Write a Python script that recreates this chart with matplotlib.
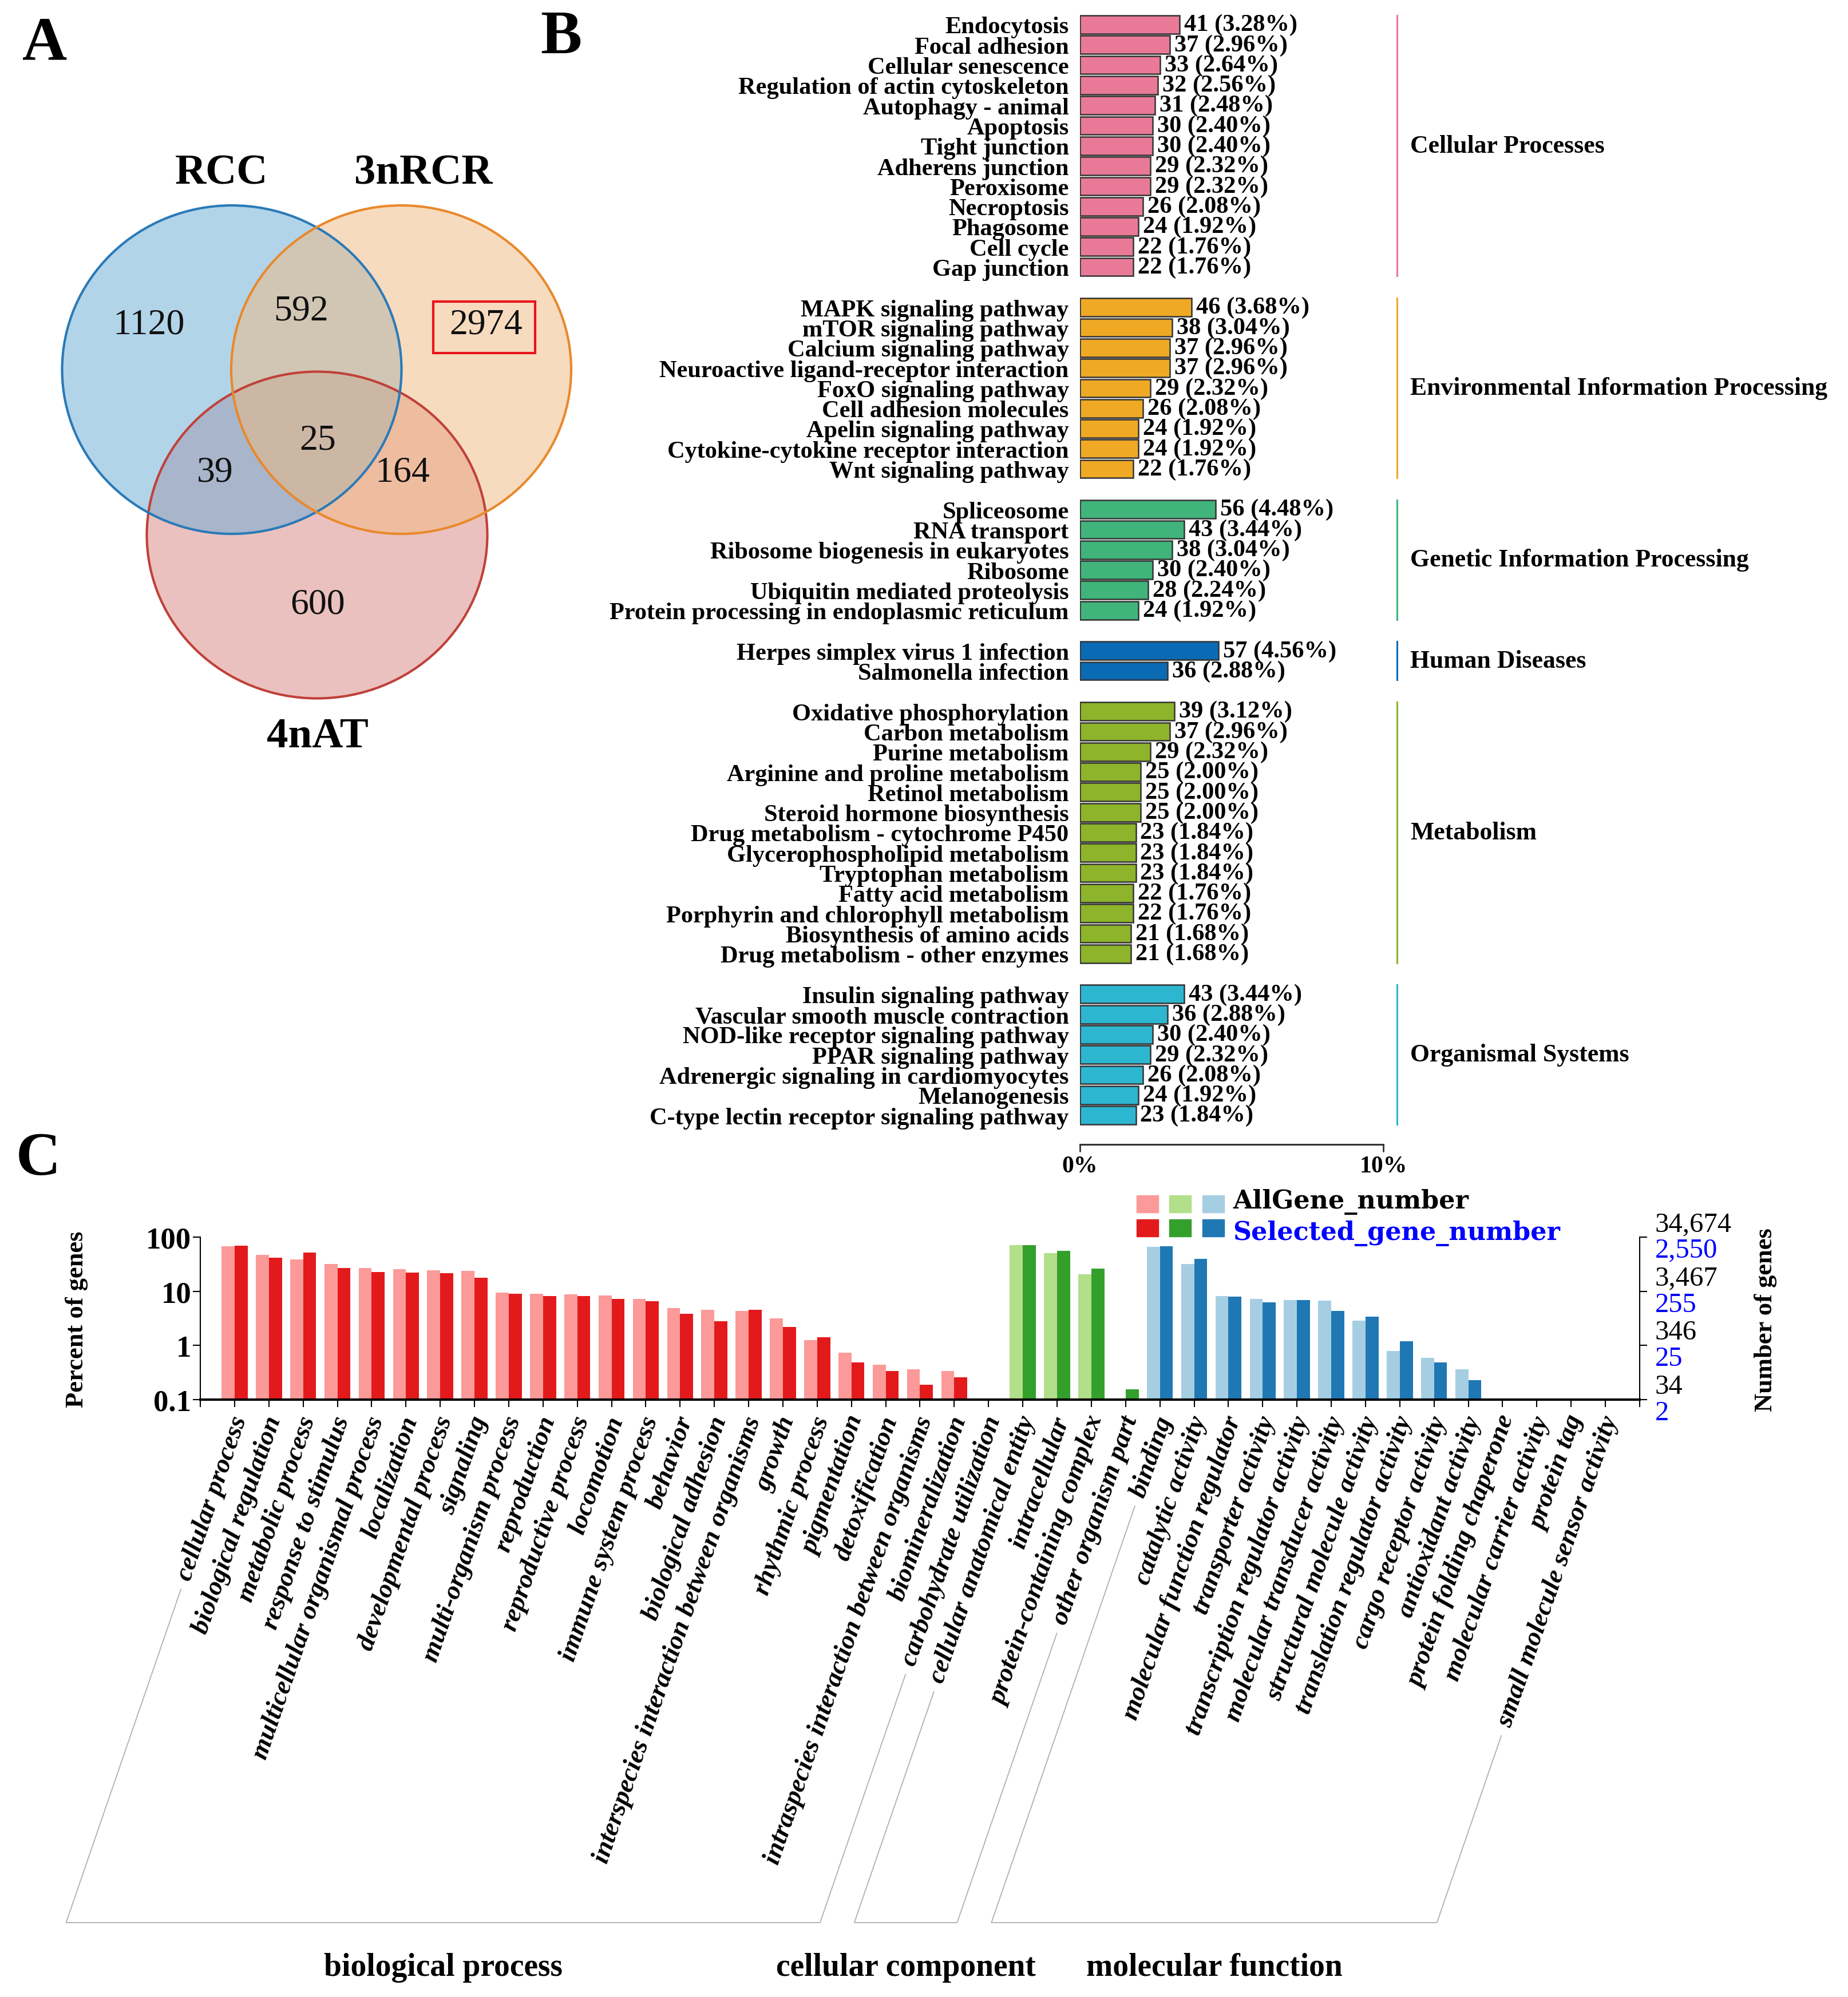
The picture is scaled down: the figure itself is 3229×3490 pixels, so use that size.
import matplotlib
matplotlib.use("Agg")
import matplotlib.pyplot as plt
import matplotlib.transforms as mtrans
from matplotlib.patches import Ellipse, Rectangle
from matplotlib.ticker import NullLocator
import numpy as np

plt.rcParams['font.family'] = ['Liberation Serif', 'DejaVu Serif']

W, H = 3230, 3491

# ---------------- data: panel A (venn)
venn_sets = ["RCC", "3nRCR", "4nAT"]
venn_regions = ["RCC", "RCC&3nRCR", "3nRCR", "RCC&3nRCR&4nAT", "RCC&4nAT", "3nRCR&4nAT", "4nAT"]
venn_values = [1120, 592, 2974, 25, 39, 164, 600]

# ---------------- data: panel B (KEGG)
kegg_classes = ["Cellular Processes", "Environmental Information Processing",
                "Genetic Information Processing", "Human Diseases",
                "Metabolism", "Organismal Systems"]
cell_names = ["Endocytosis", "Focal adhesion", "Cellular senescence", "Regulation of actin cytoskeleton",
              "Autophagy - animal", "Apoptosis", "Tight junction", "Adherens junction", "Peroxisome",
              "Necroptosis", "Phagosome", "Cell cycle", "Gap junction"]
cell_counts = [41, 37, 33, 32, 31, 30, 30, 29, 29, 26, 24, 22, 22]
cell_pct = [3.28, 2.96, 2.64, 2.56, 2.48, 2.40, 2.40, 2.32, 2.32, 2.08, 1.92, 1.76, 1.76]
env_names = ["MAPK signaling pathway", "mTOR signaling pathway", "Calcium signaling pathway",
             "Neuroactive ligand-receptor interaction", "FoxO signaling pathway", "Cell adhesion molecules",
             "Apelin signaling pathway", "Cytokine-cytokine receptor interaction", "Wnt signaling pathway"]
env_counts = [46, 38, 37, 37, 29, 26, 24, 24, 22]
env_pct = [3.68, 3.04, 2.96, 2.96, 2.32, 2.08, 1.92, 1.92, 1.76]
gen_names = ["Spliceosome", "RNA transport", "Ribosome biogenesis in eukaryotes", "Ribosome",
             "Ubiquitin mediated proteolysis", "Protein processing in endoplasmic reticulum"]
gen_counts = [56, 43, 38, 30, 28, 24]
gen_pct = [4.48, 3.44, 3.04, 2.40, 2.24, 1.92]
hum_names = ["Herpes simplex virus 1 infection", "Salmonella infection"]
hum_counts = [57, 36]
hum_pct = [4.56, 2.88]
met_names = ["Oxidative phosphorylation", "Carbon metabolism", "Purine metabolism",
             "Arginine and proline metabolism", "Retinol metabolism", "Steroid hormone biosynthesis",
             "Drug metabolism - cytochrome P450", "Glycerophospholipid metabolism", "Tryptophan metabolism",
             "Fatty acid metabolism", "Porphyrin and chlorophyll metabolism", "Biosynthesis of amino acids",
             "Drug metabolism - other enzymes"]
met_counts = [39, 37, 29, 25, 25, 25, 23, 23, 23, 22, 22, 21, 21]
met_pct = [3.12, 2.96, 2.32, 2.00, 2.00, 2.00, 1.84, 1.84, 1.84, 1.76, 1.76, 1.68, 1.68]
org_names = ["Insulin signaling pathway", "Vascular smooth muscle contraction",
             "NOD-like receptor signaling pathway", "PPAR signaling pathway",
             "Adrenergic signaling in cardiomyocytes", "Melanogenesis",
             "C-type lectin receptor signaling pathway"]
org_counts = [43, 36, 30, 29, 26, 24, 23]
org_pct = [3.44, 2.88, 2.40, 2.32, 2.08, 1.92, 1.84]
kegg_colors = ["#e97a97", "#efa925", "#40b47a", "#0b6ab4", "#8db42a", "#2db6d0"]

# ---------------- data: panel C (GO)
go_classes = ["biological process", "cellular component", "molecular function"]
bp_terms = ["cellular process", "biological regulation", "metabolic process", "response to stimulus",
            "multicellular organismal process", "localization", "developmental process", "signaling",
            "multi-organism process", "reproduction", "reproductive process", "locomotion",
            "immune system process", "behavior", "biological adhesion",
            "interspecies interaction between organisms", "growth", "rhythmic process", "pigmentation",
            "detoxification", "intraspecies interaction between organisms", "biomineralization",
            "carbohydrate utilization"]
bp_all = [67, 47, 39, 31.6, 26.7, 25.4, 24.4, 23.8, 9.5, 8.9, 8.8, 8.4, 7.3, 4.9, 4.5, 4.3, 3.2,
          1.26, 0.74, 0.44, 0.36, 0.34, 0]
bp_sel = [69, 42, 52, 27, 22.9, 22.3, 21.4, 17.8, 9.0, 8.2, 8.1, 7.2, 6.6, 3.8, 2.8, 4.5, 2.2,
          1.42, 0.49, 0.34, 0.19, 0.26, 0]
cc_terms = ["cellular anatomical entity", "intracellular", "protein-containing complex", "other organism part"]
cc_all = [71, 50, 20.7, 0]
cc_sel = [71, 56, 26, 0.156]
mf_terms = ["binding", "catalytic activity", "molecular function regulator", "transporter activity",
            "transcription regulator activity", "molecular transducer activity",
            "structural molecule activity", "translation regulator activity", "cargo receptor activity",
            "antioxidant activity", "protein folding chaperone", "molecular carrier activity",
            "protein tag", "small molecule sensor activity"]
mf_all = [66, 32, 8.2, 7.3, 6.9, 6.8, 2.9, 0.80, 0.59, 0.36, 0, 0, 0, 0]
mf_sel = [67, 40, 8.0, 6.2, 6.9, 4.3, 3.4, 1.19, 0.49, 0.23, 0, 0, 0, 0]
go_light = ["#fb9a99", "#b2df8a", "#a6cee3"]
go_dark = ["#e31a1c", "#33a02c", "#1f78b4"]
right_ticks = [100, 10, 1, 0.1]
right_black = ["34,674", "3,467", "346", "34"]
right_blue = ["2,550", "255", "25", "2"]


def frac(x0, y0, x1, y1):
    return [x0 / W, 1 - y1 / H, (x1 - x0) / W, (y1 - y0) / H]


fig = plt.figure(figsize=(W / 100, H / 100), dpi=100)
ov = fig.add_axes([0, 0, 1, 1])
ov.set_xlim(0, W)
ov.set_ylim(H, 0)
ov.axis('off')

# ---------------- panel A
# fill order: 4nAT, RCC, 3nRCR (gives the bluish/tan overlaps)
circles = [((554, 936), 595, 571, "#d98581", "#c0413a"),
           ((405, 647), 593, 574, "#67abd5", "#2a7ab8"),
           ((701, 647), 594, 574, "#f1b981", "#e8892b")]
for c, w, h, fc, ec in circles:
    ov.add_patch(Ellipse(c, w, h, facecolor=fc, alpha=0.5, edgecolor='none'))
for c, w, h, fc, ec in circles:
    ov.add_patch(Ellipse(c, w, h, fill=False, edgecolor=ec, lw=3))
region_xy = [(260, 568), (526, 544), (849, 568), (555, 771), (376, 827), (703, 827), (555, 1058)]
for (x, y), v in zip(region_xy, venn_values):
    ov.text(x, y, str(v), ha='center', va='center', fontsize=46, color='#111111')
for (x, y), s in zip([(387, 303), (740, 303), (555, 1288)], venn_sets):
    ov.text(x, y, s, ha='center', va='center', fontsize=54, fontweight='bold')
ov.add_patch(Rectangle((757, 528), 178, 90, fill=False, edgecolor='#e8141c', lw=3))

for (x, y), s in zip([(78, 78), (980, 67), (67, 2027)], ["A", "B", "C"]):
    ov.text(x, y, s, ha='center', va='center', fontsize=78, fontweight='bold')

# ---------------- panel B
axb = fig.add_axes(frac(1887, 26.35, 2417, 2001))
groups = [(cell_names, cell_counts, cell_pct), (env_names, env_counts, env_pct),
          (gen_names, gen_counts, gen_pct), (hum_names, hum_counts, hum_pct),
          (met_names, met_counts, met_pct), (org_names, org_counts, org_pct)]
row = 0
all_pos, all_names = [], []
for (names, counts, pcts), cls, col in zip(groups, kegg_classes, kegg_colors):
    pos = np.arange(row, row + len(names))
    axb.barh(pos, pcts, height=0.9, color=col, edgecolor='#333333', lw=1.8)
    for p, n, v in zip(pos, counts, pcts):
        axb.text(v + 0.15, p, f"{n} ({v:.2f}%)", va='center', ha='left', fontsize=30.5, fontweight='bold')
    axb.plot([10.45, 10.45], [pos[0] - 0.45, pos[-1] + 0.45], color=col, lw=2.2, clip_on=False)
    axb.text(10.89, (pos[0] + pos[-1]) / 2, cls, va='center', ha='left', fontsize=31.5, fontweight='bold')
    all_pos += list(pos)
    all_names += names
    row += len(names) + 1
axb.set_xlim(0, 10)
axb.set_ylim(55.44, -0.5)
axb.set_yticks(all_pos)
axb.set_yticklabels(all_names, fontsize=30.5, fontweight='bold')
axb.tick_params(axis='y', length=0, pad=14)
axb.set_xticks([0, 10])
axb.set_xticklabels(["0%", "10%"], fontsize=30, fontweight='bold')
axb.tick_params(axis='x', length=9.4, width=2, pad=4, color='#333333')
for s in ['left', 'right', 'top']:
    axb.spines[s].set_visible(False)
axb.spines['bottom'].set_linewidth(2.2)
axb.spines['bottom'].set_color('#333333')
axb.patch.set_alpha(0)

# ---------------- panel C
axc = fig.add_axes(frac(350, 2163, 2865, 2447))
axc.set_yscale('log')
terms = bp_terms + cc_terms + mf_terms
all_vals = bp_all + cc_all + mf_all
sel_vals = bp_sel + cc_sel + mf_sel
grp_idx = [0] * len(bp_terms) + [1] * len(cc_terms) + [2] * len(mf_terms)
for i, (a, s, g) in enumerate(zip(all_vals, sel_vals, grp_idx)):
    if a > 0:
        axc.bar(i - 0.19, a, width=0.38, color=go_light[g])
    if s > 0:
        axc.bar(i + 0.19, s, width=0.38, color=go_dark[g])
axc.set_ylim(0.1, 100)
axc.set_xlim(-1, len(terms))
axc.set_yticks([0.1, 1, 10, 100])
axc.set_yticklabels(["0.1", "1", "10", "100"], fontsize=38, fontweight='bold')
axc.yaxis.set_minor_locator(NullLocator())
axc.set_xticks(range(-1, len(terms) + 1))
axc.set_xticklabels([])
axc.tick_params(axis='x', length=9.4, width=1.5)
axc.tick_params(axis='y', length=9.4, width=1.5, pad=2)
axc.spines['top'].set_visible(False)
axc.spines['right'].set_visible(False)
axc.spines['bottom'].set_linewidth(3)
axc.spines['left'].set_linewidth(1.5)
axc.patch.set_alpha(0)

ax2 = axc.twinx()
ax2.set_yscale('log')
ax2.set_ylim(0.1, 100)
ax2.set_yticks(right_ticks)
ax2.set_yticklabels([])
ax2.yaxis.set_minor_locator(NullLocator())
ax2.tick_params(axis='y', length=9.4, width=1.5)
for s in ['top', 'left', 'bottom']:
    ax2.spines[s].set_visible(False)
ax2.spines['right'].set_linewidth(1.5)
for v, b, bl in zip(right_ticks, right_black, right_blue):
    ax2.annotate(b, xy=(1, v), xycoords=('axes fraction', 'data'), xytext=(19, 16.5),
                 textcoords='offset points', ha='left', va='center', fontsize=35, color='black')
    ax2.annotate(bl, xy=(1, v), xycoords=('axes fraction', 'data'), xytext=(19, -16.5),
                 textcoords='offset points', ha='left', va='center', fontsize=35, color='#0000ff')

base = mtrans.blended_transform_factory(axc.transData, axc.transAxes)
t_off = mtrans.offset_copy(base, fig=fig, x=10, y=-30, units='dots')
labels = []
for i, t in enumerate(terms):
    labels.append(axc.text(i, 0, t, transform=t_off, rotation=71, ha='right', va='center',
                           rotation_mode='anchor', fontsize=33.5, fontweight='bold', fontstyle='italic'))

ov.text(134, 2306, "Percent of genes", rotation=90, ha='center', va='center', fontsize=32, fontweight='bold')
ov.text(3085, 2307, "Number of genes", rotation=90, ha='center', va='center', fontsize=32, fontweight='bold')

# legend (wider, heavier face as in the original)
for k in range(3):
    ov.add_patch(Rectangle((1986 + 57.5 * k, 2090), 38, 30, color=go_light[k]))
    ov.add_patch(Rectangle((1986 + 57.5 * k, 2132), 38, 30, color=go_dark[k]))
ov.text(2154, 2101, "AllGene_number", va='center', ha='left', fontsize=32, fontweight='bold',
        family=['DejaVu Serif'])
ov.text(2154, 2156, "Selected_gene_number", va='center', ha='left', fontsize=32, fontweight='bold',
        color='#0000ff', family=['DejaVu Serif'])

# brackets under the GO labels
fig.canvas.draw()
renderer = fig.canvas.get_renderer()
tan_a = np.tan(np.radians(71))
y_floor = 3361


def bracket_line(i):
    ax_d = t_off.transform((i, 0))
    anc_x, anc_y = ax_d[0], H - ax_d[1]
    bb = labels[i].get_window_extent(renderer)
    y_top = H - bb.y0 + 10
    x_top = anc_x - (y_top - anc_y) / tan_a
    x_bot = anc_x - (y_floor - anc_y) / tan_a
    return (x_top, y_top), (x_bot, y_floor)


start = 0
for name, n in zip(go_classes, [len(bp_terms), len(cc_terms), len(mf_terms)]):
    (lx0, ly0), (lx1, ly1) = bracket_line(start)
    (rx0, ry0), (rx1, ry1) = bracket_line(start + n - 1)
    ov.plot([lx0, lx1, rx1, rx0], [ly0, ly1, ry1, ry0], color='#b0b0b0', lw=1.3)
    ov.text((lx1 + rx1) / 2, 3439, name, ha='center', va='center', fontsize=40, fontweight='bold')
    start += n

fig.savefig("out.png", dpi=100)
